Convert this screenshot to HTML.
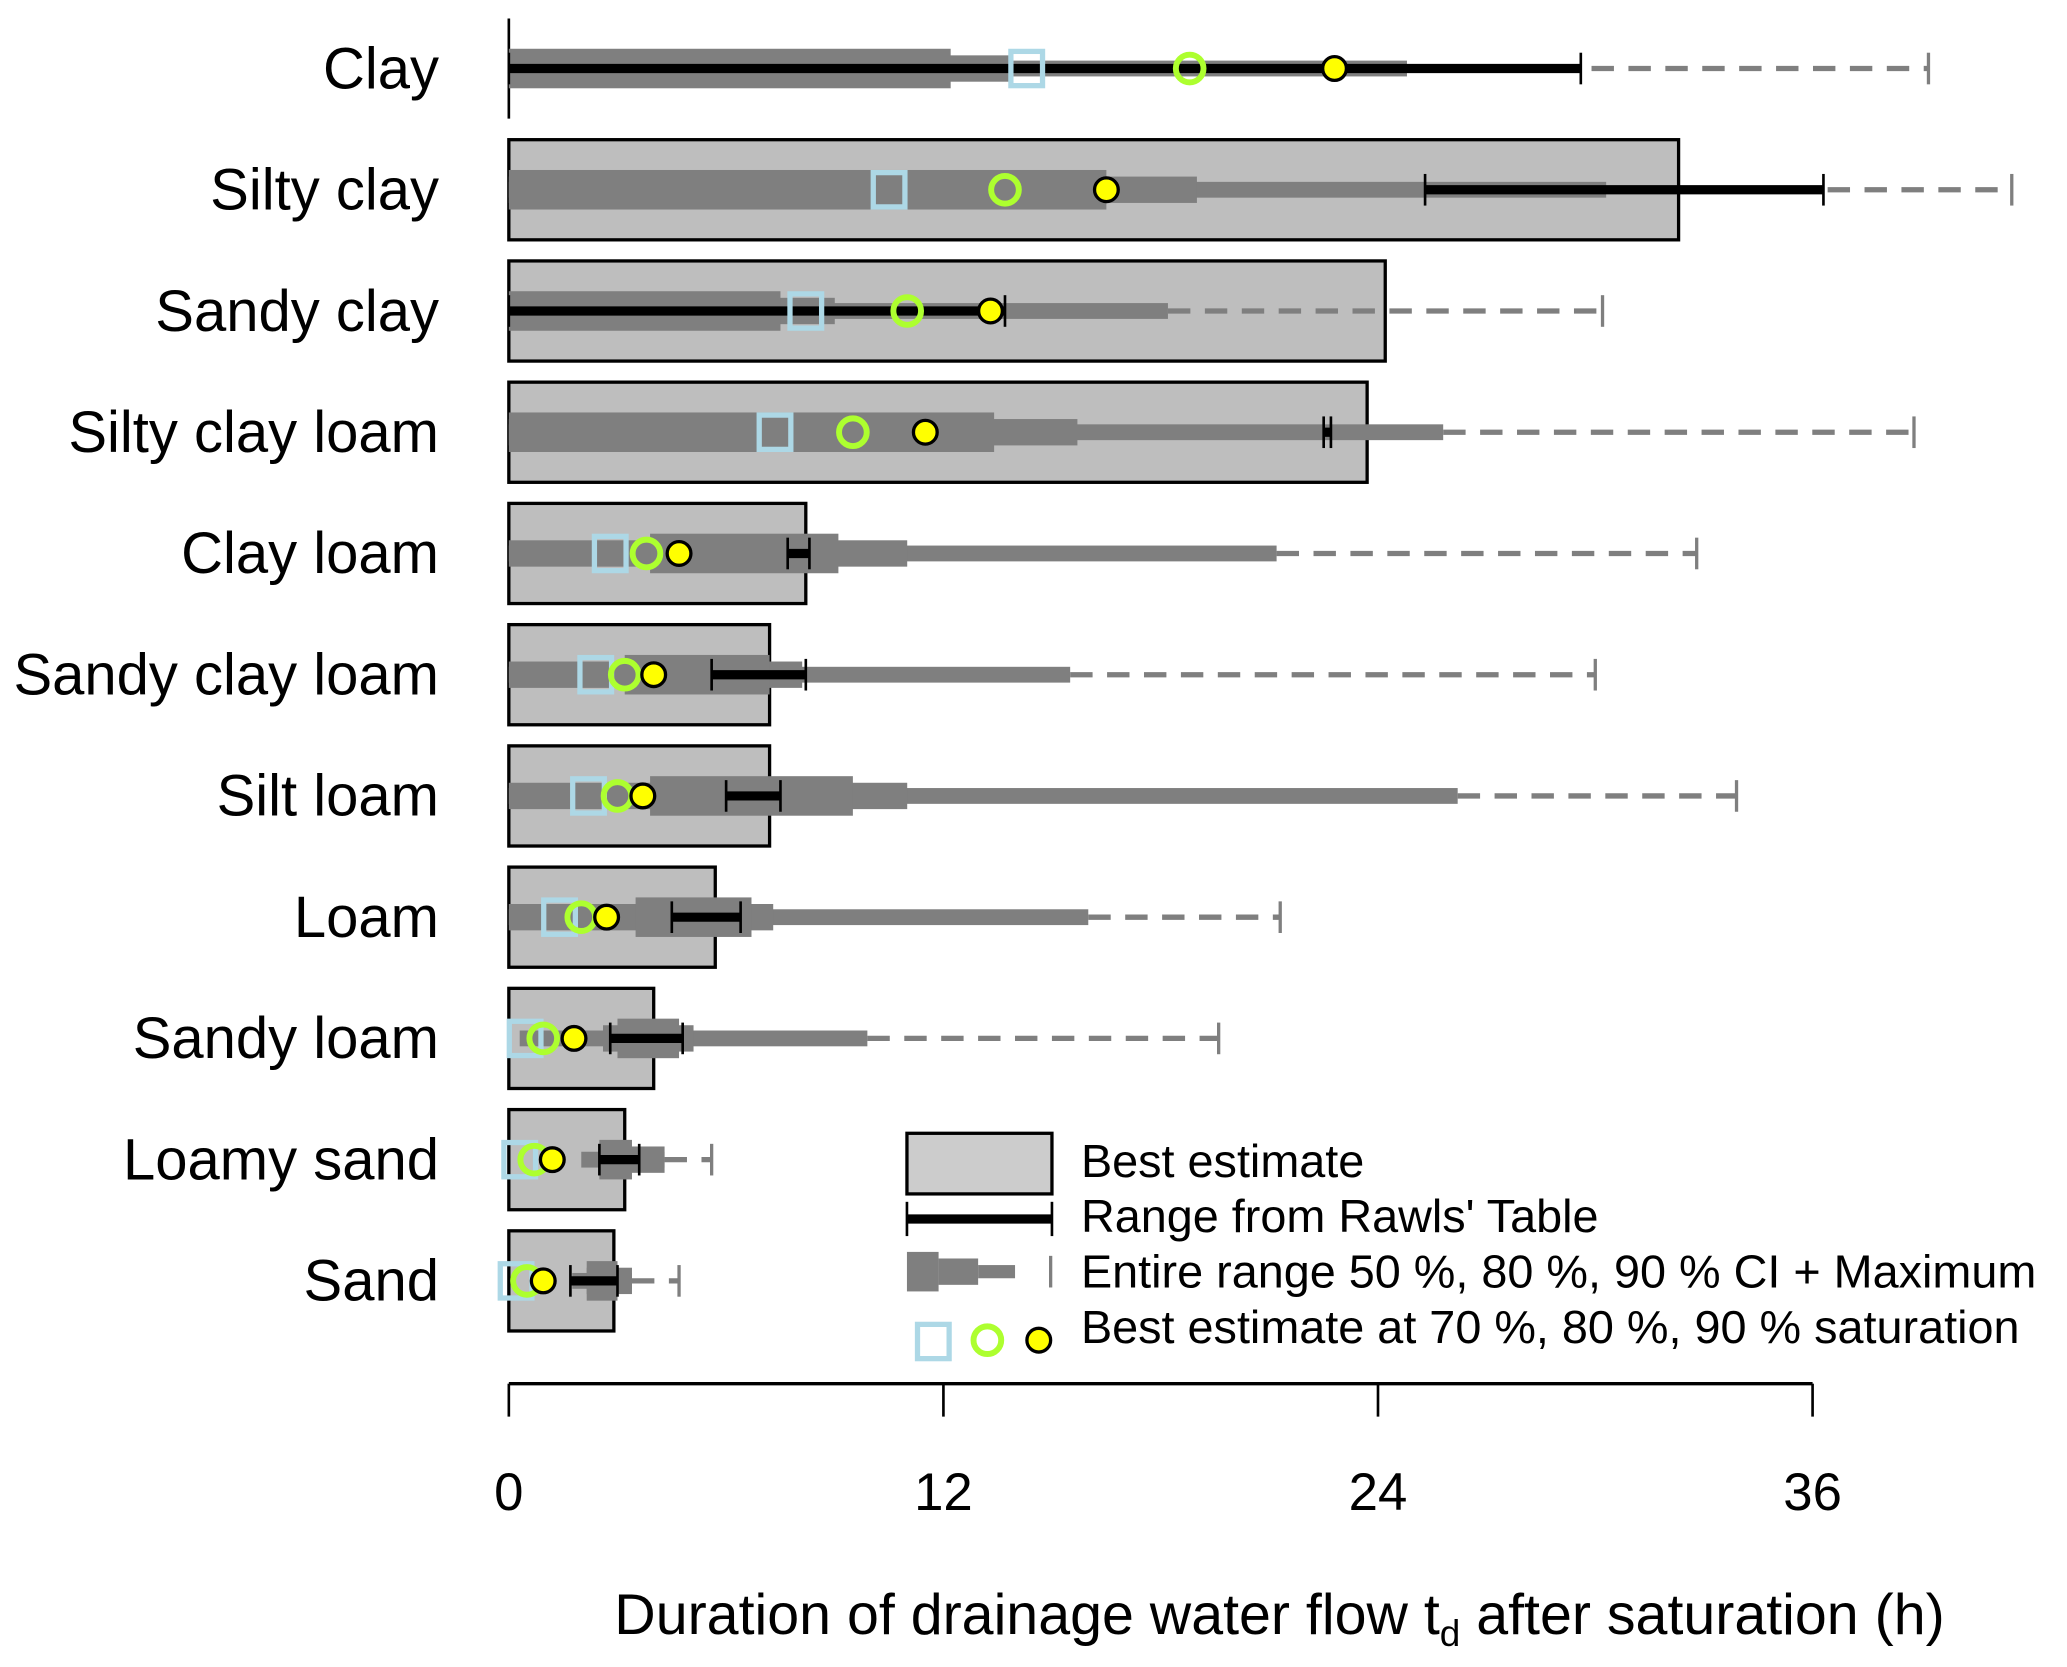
<!DOCTYPE html>
<html><head><meta charset="utf-8"><style>
html,body{margin:0;padding:0;background:#fff;}
svg{display:block;font-family:"Liberation Sans",Arial,sans-serif;}
</style></head><body>
<svg id="chart" width="2067" height="1667" viewBox="0 0 1568 1265" preserveAspectRatio="none" xmlns="http://www.w3.org/2000/svg">
<g id="plot"></g>
<g id="legend">
  <rect x="688" y="860" width="110" height="46" fill="#cccccc" stroke="#000" stroke-width="2.5"/>
  <text x="820" y="893" font-size="35.5">Best estimate</text>
  <line x1="688" y1="925" x2="798" y2="925" stroke="#000" stroke-width="7"/>
  <line x1="688" y1="912" x2="688" y2="938" stroke="#000" stroke-width="2"/>
  <line x1="798" y1="912" x2="798" y2="938" stroke="#000" stroke-width="2"/>
  <text x="820" y="935" font-size="35.5">Range from Rawls' Table</text>
  <rect x="688" y="950" width="24" height="30" fill="#7f7f7f"/>
  <rect x="712" y="955" width="30" height="20" fill="#7f7f7f"/>
  <rect x="742" y="960" width="28" height="10" fill="#7f7f7f"/>
  <line x1="797" y1="953" x2="797" y2="977" stroke="#7f7f7f" stroke-width="2.5"/>
  <text x="820" y="977" font-size="35.5">Entire range 50 %, 80 %, 90 % CI + Maximum</text>
  <rect x="696" y="1005" width="24" height="26" fill="none" stroke="#add8e6" stroke-width="4"/>
  <circle cx="749" cy="1017" r="10.5" fill="none" stroke="#adff2f" stroke-width="4.5"/>
  <circle cx="788" cy="1017" r="9" fill="#ffff00" stroke="#000" stroke-width="2.5"/>
  <text x="820" y="1019" font-size="35.5">Best estimate at 70 %, 80 %, 90 % saturation</text>
</g>
<text x="466" y="1240" font-size="43.5">Duration of drainage water flow t<tspan font-size="28" dy="9">d</tspan><tspan dy="-9"> after saturation (h)</tspan></text>
</svg>
<script>
const categories = ["Clay","Silty clay","Sandy clay","Silty clay loam","Clay loam","Sandy clay loam","Silt loam","Loam","Sandy loam","Loamy sand","Sand"];
const bestEstimate = [null,32.3,24.2,23.7,8.2,7.2,7.2,5.7,4.0,3.2,2.9];
const ci50Low = [0,0,0,0,3.9,3.2,3.9,3.5,3.0,2.5,2.15];
const ci50High = [12.2,16.5,7.5,13.4,9.1,7.2,9.5,6.7,4.7,3.4,3.0];
const ci80Low = [0,0,0,0,0,0,0,0,2.6,2.5,2.15];
const ci80High = [13.9,19.0,9.0,15.7,11.0,8.1,11.0,7.3,5.1,4.3,3.4];
const ci90Low = [0,0,0,0,0,0,0,0,0.3,2.0,1.75];
const ci90High = [24.8,30.3,18.2,25.8,21.2,15.5,26.2,16.0,9.9,4.3,3.4];
const maximum = [39.2,41.5,30.2,38.8,32.8,30.0,33.9,21.3,19.6,5.6,4.7];
const rawlsLow = [0,25.3,0,22.5,7.7,5.6,6.0,4.5,2.8,2.5,1.7];
const rawlsHigh = [29.6,36.3,13.7,22.7,8.3,8.2,7.5,6.4,4.8,3.6,3.0];
const sat70 = [14.3,10.5,8.2,7.35,2.8,2.4,2.2,1.4,0.45,0.3,0.2];
const sat80 = [18.8,13.7,11.0,9.5,3.8,3.2,3.0,2.0,0.95,0.7,0.5];
const sat90 = [22.8,16.5,13.3,11.5,4.7,4.0,3.7,2.7,1.8,1.2,0.95];
const xTicks = [0,12,24,36];

const NS="http://www.w3.org/2000/svg";
const X0=386, PX=(1375-386)/36;
function xs(v){return X0+v*PX;}
function ys(i){return 52+i*92;}
const plot=document.getElementById('plot');
function mk(tag,attrs,parent){const e=document.createElementNS(NS,tag);for(const k in attrs)e.setAttribute(k,attrs[k]);(parent||plot).appendChild(e);return e;}

const yl=mk('line',{x1:X0,y1:14,x2:X0,y2:90,stroke:'#000','stroke-width':2});



categories.forEach((c,i)=>{
  const y=ys(i);
  const g=mk('g',{});
  
  
  const lab=mk('text',{x:333,y:y+15,'font-size':44,'text-anchor':'end'},g);
  lab.textContent=c;
  
  
  if(bestEstimate[i]!==null){
    const b=mk('rect',{x:X0,y:y-38,width:xs(bestEstimate[i])-X0,height:76,fill:'#bebebe',stroke:'#000','stroke-width':2.5},g);
    
    
  }
  const d=mk('line',{x1:xs(ci90High[i]),y1:y,x2:xs(maximum[i]),y2:y,stroke:'#7f7f7f','stroke-width':4,'stroke-dasharray':'17,11'},g);
  
  
  const mt=mk('line',{x1:xs(maximum[i]),y1:y-12,x2:xs(maximum[i]),y2:y+12,stroke:'#7f7f7f','stroke-width':2.5},g);
  
  
  const r90=mk('rect',{x:xs(ci90Low[i]),y:y-6,width:xs(ci90High[i])-xs(ci90Low[i]),height:12,fill:'#7f7f7f'},g);
  
  
  const r80=mk('rect',{x:xs(ci80Low[i]),y:y-10,width:xs(ci80High[i])-xs(ci80Low[i]),height:20,fill:'#7f7f7f'},g);
  
  
  const r50=mk('rect',{x:xs(ci50Low[i]),y:y-15,width:xs(ci50High[i])-xs(ci50Low[i]),height:30,fill:'#7f7f7f'},g);
  
  
  const rl=mk('line',{x1:xs(rawlsLow[i]),y1:y,x2:xs(rawlsHigh[i]),y2:y,stroke:'#000','stroke-width':7},g);
  
  
  [rawlsLow[i],rawlsHigh[i]].forEach(v=>{
    const t=mk('line',{x1:xs(v),y1:y-12,x2:xs(v),y2:y+12,stroke:'#000','stroke-width':2},g);
    
    
  });
  const sq=mk('rect',{x:xs(sat70[i])-12,y:y-13,width:24,height:26,fill:'none',stroke:'#add8e6','stroke-width':4},g);
  
  
  const c8=mk('circle',{cx:xs(sat80[i]),cy:y,r:10.5,fill:'none',stroke:'#adff2f','stroke-width':4.5},g);
  
  
  const c9=mk('circle',{cx:xs(sat90[i]),cy:y,r:9,fill:'#ffff00',stroke:'#000','stroke-width':2.5},g);
  
  
});

const ax=mk('line',{x1:X0,y1:1050,x2:xs(xTicks[xTicks.length-1]),y2:1050,stroke:'#000','stroke-width':2.5});


xTicks.forEach(v=>{
  const t=mk('line',{x1:xs(v),y1:1050,x2:xs(v),y2:1075,stroke:'#000','stroke-width':2});
  
  
  const l=mk('text',{x:xs(v),y:1146,'font-size':40,'text-anchor':'middle'});
  l.textContent=v;
  
  
});
</script>
</body></html>
